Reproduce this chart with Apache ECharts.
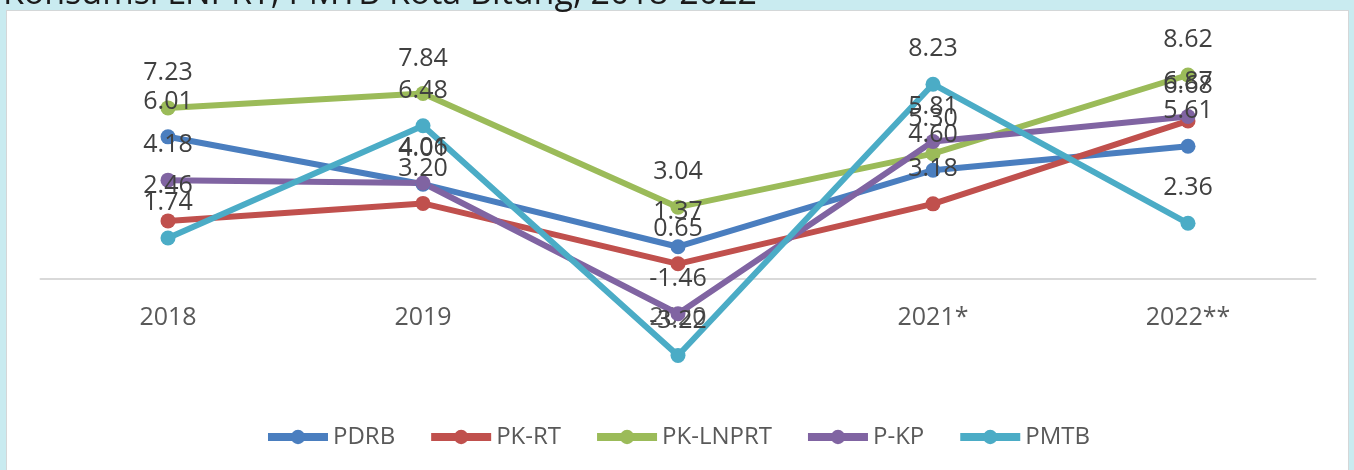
<!DOCTYPE html>
<html>
<head>
<meta charset="utf-8">
<script src="https://cdn.jsdelivr.net/npm/echarts@6/dist/echarts.min.js"></script>
<style>
html,body{margin:0;padding:0;background:#c9ebf0;}
#c{width:1354px;height:470px;}
</style>
</head>
<body>
<div id="c"></div>
<script>
const titleText = 'Konsumsi LNPRT, PMTB Kota Bitung, 2018-2022';
const categories = ['2018', '2019', '2020', '2021*', '2022**'];
const seriesNames = ['PDRB', 'PK-RT', 'PK-LNPRT', 'P-KP', 'PMTB'];
const pdrb    = [6.01, 4.01, 1.37, 4.60, 5.61];
const pkrt    = [2.46, 3.20, 0.65, 3.18, 6.68];
const pklnprt = [7.23, 7.84, 3.04, 5.30, 8.62];
const pkp     = [4.18, 4.06, -1.46, 5.81, 6.87];
const pmtb    = [1.74, 6.48, -3.22, 8.23, 2.36];

const values = [pdrb, pkrt, pklnprt, pkp, pmtb];
const colors = ['#4a7ebf', '#c0504d', '#9bbb59', '#8064a2', '#4bacc6'];

const chart = echarts.init(document.getElementById('c'), null, {renderer: 'canvas'});
const option = {
  animation: false,
  backgroundColor: '#c9ebf0',
  graphic: [
    {type: 'rect', shape: {x: 6, y: 10, width: 1343, height: 470}, style: {fill: '#d4d7d8'}, z: -10},
    {type: 'rect', shape: {x: 7, y: 11, width: 1341, height: 470}, style: {fill: '#ffffff'}, z: -9},
    {type: 'text', x: 3, y: 11, style: {text: titleText, font: '34px "Open Sans"', fill: '#1a1a1a', verticalAlign: 'bottom'}, z: -8}
  ],
  grid: [
    {left: 40.5, width: 1275, top: 42.3, height: 355.35},
    {left: 40.5, width: 1275, top: 42.3, height: 236.9}
  ],
  xAxis: [{
    type: 'category',
    gridIndex: 0,
    data: categories,
    boundaryGap: true,
    axisLine: {lineStyle: {color: '#d9d9d9', width: 2}},
    axisTick: {show: false},
    axisLabel: {show: false}
  }, {
    type: 'category',
    gridIndex: 1,
    data: categories,
    boundaryGap: true,
    axisLine: {show: false},
    axisTick: {show: false},
    axisLabel: {color: '#595959', fontFamily: 'Open Sans', fontSize: 25, margin: 26}
  }],
  yAxis: [
    {type: 'value', gridIndex: 0, min: -5, max: 10, show: false, splitLine: {show: false}},
    {type: 'value', gridIndex: 1, min: 0, max: 1, show: false, splitLine: {show: false}}
  ],
  legend: {
    top: 420, left: 'center',
    itemWidth: 60, itemHeight: 18, itemGap: 32,
    lineStyle: {width: 8},
    textStyle: {color: '#595959', fontFamily: 'Open Sans', fontSize: 24},
    data: seriesNames
  },
  series: seriesNames.map((n, i) => ({
    name: n,
    type: 'line',
    xAxisIndex: 0, yAxisIndex: 0,
    data: values[i],
    symbol: 'circle',
    symbolSize: 15,
    color: colors[i],
    lineStyle: {width: 6, color: colors[i]},
    itemStyle: {color: colors[i]},
    label: {
      show: true, position: 'top', distance: 15,
      color: '#404040', fontFamily: 'Open Sans', fontSize: 25,
      formatter: p => p.value.toFixed(2)
    }
  }))
};
chart.setOption(option);
</script>
</body>
</html>
